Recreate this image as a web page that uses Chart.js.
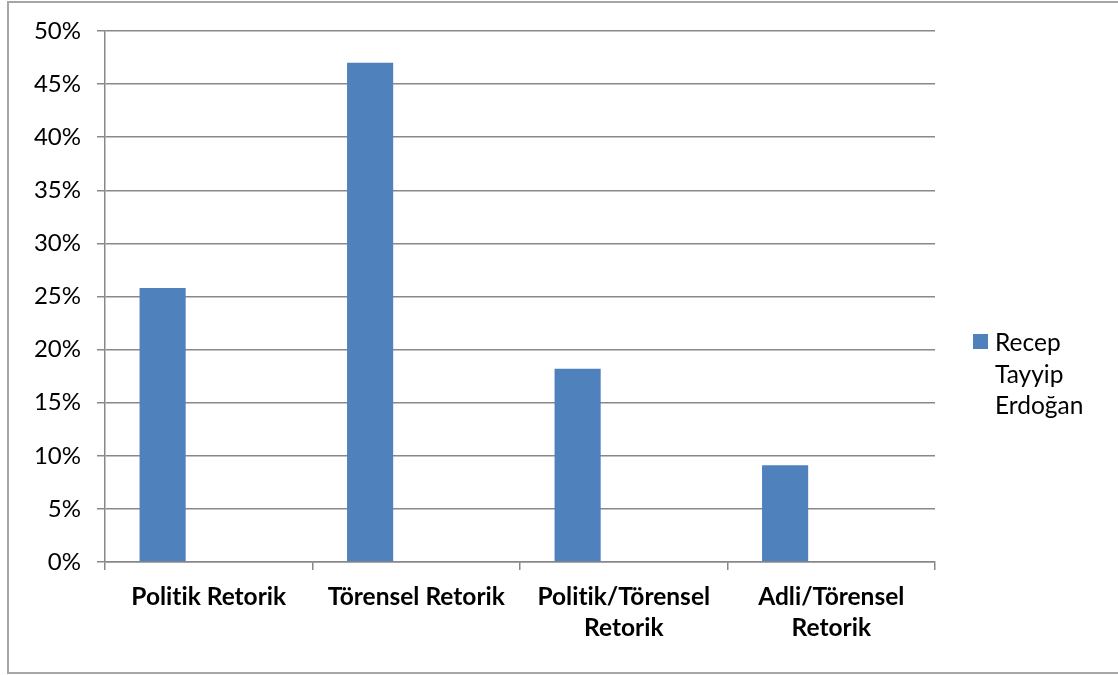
<!DOCTYPE html>
<html>
<head>
<meta charset="utf-8">
<script src="https://cdn.jsdelivr.net/npm/chart.js@4"></script>
<style>
  html, body { margin: 0; padding: 0; background: #ffffff; }
  #wrap { position: relative; width: 1118px; height: 675px; overflow: hidden; }
  #legend { position: absolute; left: 973px; top: 326px; font-family: Lato, "Open Sans", sans-serif; font-size: 24.5px; color: #000; }
  #legend .sw { position: absolute; left: 0; top: 8px; width: 15px; height: 15px; background: #4F81BD; }
  #legend .tx { position: absolute; left: 22px; top: 0; line-height: 31.5px; white-space: nowrap; }
</style>
</head>
<body>
<div id="wrap">
  <canvas id="c" width="1118" height="675"></canvas>
  <div id="legend"><div class="sw"></div><div class="tx">Recep<br>Tayyip<br>Erdoğan</div></div>
</div>
<script>
const categories = [["Politik Retorik"], ["Törensel Retorik"], ["Politik/Törensel", "Retorik"], ["Adli/Törensel", "Retorik"]];
const seriesName = "Recep Tayyip Erdoğan";
const erdoganValues = [25.8, 47.0, 18.2, 9.1];
const emptySeries2 = [null, null, null, null];
const emptySeries3 = [null, null, null, null];
const yTicks = [0, 5, 10, 15, 20, 25, 30, 35, 40, 45, 50];

const frame = {
  id: 'frame',
  beforeDraw(chart) {
    const ctx = chart.ctx;
    try { ctx.textRendering = 'optimizeSpeed'; } catch (e) {}
  },
  afterDraw(chart) {
    const ctx = chart.ctx;
    ctx.save();
    ctx.strokeStyle = '#a6a6a6';
    ctx.lineWidth = 2;
    ctx.strokeRect(8, 2, 1200, 671);
    ctx.restore();
  }
};

const gridColor = '#888888';

new Chart(document.getElementById('c'), {
  type: 'bar',
  data: {
    labels: categories,
    datasets: [
      { label: seriesName, data: erdoganValues, backgroundColor: '#4F81BD', borderWidth: 0 },
      { label: 'Seri 2', data: emptySeries2, backgroundColor: '#C0504D' },
      { label: 'Seri 3', data: emptySeries3, backgroundColor: '#9BBB59' }
    ]
  },
  plugins: [frame],
  options: {
    responsive: false,
    devicePixelRatio: 1,
    animation: false,
    categoryPercentage: 0.667,
    barPercentage: 1.0,
    layout: { padding: { top: 31, right: 183, left: 0, bottom: 0 } },
    plugins: { legend: { display: false }, tooltip: { enabled: false } },
    scales: {
      x: {
        grid: { display: true, drawOnChartArea: false, drawTicks: true, tickLength: 8, color: gridColor, lineWidth: 1.5, offset: true },
        border: { display: true, color: gridColor, width: 1.5 },
        ticks: {
          color: '#000',
          font: { family: 'Lato, "Open Sans", sans-serif', size: 24.5, weight: 'bold', lineHeight: 1.28 },
          padding: 11,
          maxRotation: 0,
          autoSkip: false
        },
        afterFit(scale) { scale.height = 113; scale.paddingLeft = 0; scale.paddingRight = 0; }
      },
      y: {
        min: 0,
        max: 50,
        afterBuildTicks(scale) { scale.ticks = yTicks.map(v => ({ value: v })); },
        grid: { color: gridColor, lineWidth: 1.5, tickLength: 8, drawTicks: true },
        border: { display: true, color: gridColor, width: 1.5 },
        ticks: {
          color: '#000',
          font: { family: 'Lato, "Open Sans", sans-serif', size: 24 },
          padding: 16,
          callback: v => v + '%'
        },
        afterFit(scale) { scale.width = 105; scale.paddingTop = 0; scale.paddingBottom = 0; }
      }
    }
  }
});
</script>
</body>
</html>
